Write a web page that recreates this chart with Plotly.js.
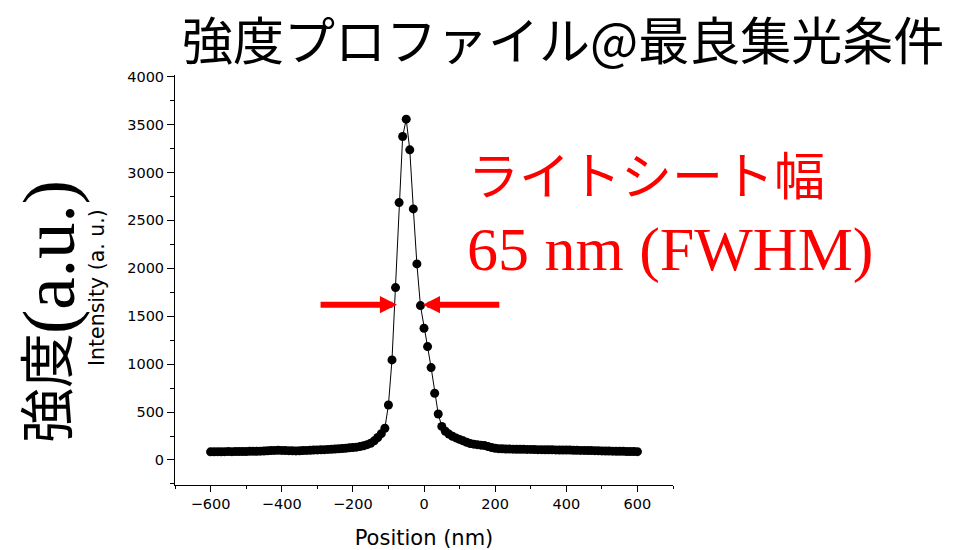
<!DOCTYPE html>
<html>
<head>
<meta charset="utf-8">
<script src="https://cdn.plot.ly/plotly-3.0.1.min.js"></script>
<style>html,body{margin:0;padding:0;background:#fff;}#chart{width:973px;height:550px;}</style>
</head>
<body>
<div id="chart"></div>
<script>
// Position (nm)
const positionNm = [
  -600,-590,-580,-570,-560,-550,-540,-530,-520,-510,
  -500,-490,-480,-470,-460,-450,-440,-430,-420,-410,
  -400,-390,-380,-370,-360,-350,-340,-330,-320,-310,
  -300,-290,-280,-270,-260,-250,-240,-230,-220,-210,
  -200,-190,-180,-170,-160,-150,-140,-130,-120,-110,
  -100,-90,-80,-70,-60,-50,-40,-30,-20,-10,
  0,10,20,30,40,50,60,70,80,90,
  100,110,120,130,140,150,160,170,180,190,
  200,210,220,230,240,250,260,270,280,290,
  300,310,320,330,340,350,360,370,380,390,
  400,410,420,430,440,450,460,470,480,490,
  500,510,520,530,540,550,560,570,580,590,
  600
];
// Intensity (a.u.)
const intensity = [
  85,86,87,86,87,88,87,88,89,88,
  89,90,91,90,92,94,96,98,100,101,
  100,98,97,96,95,96,98,100,102,104,
  105,106,108,110,112,115,117,120,123,127,
  130,134,140,148,160,175,200,235,275,331,
  574,1044,1799,2686,3375,3556,3236,2620,2046,1611,
  1375,1183,964,696,480,350,300,270,248,230,
  215,200,185,172,165,160,155,150,140,130,
  122,118,116,115,114,113,112,112,111,110,
  110,109,108,108,107,106,106,105,104,104,
  103,103,102,101,100,100,99,98,97,96,
  95,94,93,92,91,90,90,89,88,88,
  87
];
const xTickVals = [-600,-400,-200,0,200,400,600];
const yTickVals = [0,500,1000,1500,2000,2500,3000,3500,4000];

const titleText = '強度プロファイル@最良集光条件';
const xTitleText = 'Position (nm)';
const yTitleJa = '強度';
const yTitleUnit = '(a.u.)';
const yTitleEn = 'Intensity (a. u.)';
const labelJa = 'ライトシート幅';
const labelFwhm = '65 nm (FWHM)';
// FWHM arrows: [tip x, tail x] at level arrowLevel
const arrowLevel = 1621;
const leftArrow = [-76, -295];
const rightArrow = [-3, 216];

const trace = {
  x: positionNm,
  y: intensity,
  type: 'scatter',
  mode: 'lines+markers',
  line: {color: '#000', width: 1},
  marker: {color: '#000', size: 9},
  hoverinfo: 'x+y'
};

const tickFont = {family: 'DejaVu Sans, Liberation Sans, sans-serif', size: 14.5, color: '#000'};

const layout = {
  width: 973,
  height: 550,
  autosize: false,
  margin: {l: 175, r: 300, t: 75, b: 65, pad: 0},
  paper_bgcolor: '#fff',
  plot_bgcolor: '#fff',
  showlegend: false,
  title: {
    text: titleText,
    font: {family: 'Noto Sans CJK JP, sans-serif', size: 51, color: '#000'},
    xref: 'container', x: 182/973, xanchor: 'left',
    yref: 'container', y: 1 - 42/550, yanchor: 'middle'
  },
  xaxis: {
    range: [-700, 700],
    tickmode: 'array',
    tickvals: xTickVals,
    ticks: 'outside', ticklen: 6, tickwidth: 1, tickcolor: '#000',
    minor: {ticks: 'outside', ticklen: 3, tickwidth: 1, tickcolor: '#000', dtick: 100, tick0: -700, showgrid: false},
    showline: true, linecolor: '#000', linewidth: 1,
    showgrid: false, zeroline: false,
    tickfont: tickFont,
    title: {text: xTitleText, font: {family: 'DejaVu Sans, sans-serif', size: 21, color: '#000'}, standoff: 18}
  },
  yaxis: {
    range: [-261, 4017],
    tickmode: 'array',
    tickvals: yTickVals,
    ticks: 'outside', ticklen: 7, tickwidth: 1, tickcolor: '#000',
    minor: {ticks: 'outside', ticklen: 4, tickwidth: 1, tickcolor: '#000', dtick: 250, tick0: 0, showgrid: false},
    showline: true, linecolor: '#000', linewidth: 1,
    showgrid: false, zeroline: false,
    tickfont: tickFont
  },
  annotations: [
    {text: yTitleJa, xref: 'paper', yref: 'paper', x: (43-175)/498, y: (485-388)/410,
     xanchor: 'center', yanchor: 'middle', textangle: -90, showarrow: false,
     font: {family: 'Noto Sans CJK JP, sans-serif', size: 55, color: '#000'}},
    {text: yTitleUnit, xref: 'paper', yref: 'paper', x: (49-175)/498, y: (485-257)/410,
     xanchor: 'center', yanchor: 'middle', textangle: -90, showarrow: false,
     font: {family: 'Liberation Serif, serif', size: 73, color: '#000'}},
    {text: yTitleEn, xref: 'paper', yref: 'paper', x: (97-175)/498, y: (485-288)/410,
     xanchor: 'center', yanchor: 'middle', textangle: -90, showarrow: false,
     font: {family: 'DejaVu Sans, sans-serif', size: 20.5, color: '#000'}},
    {text: labelJa, xref: 'paper', yref: 'paper', x: (466-175)/498, y: (485-173)/410,
     xanchor: 'left', yanchor: 'middle', showarrow: false,
     font: {family: 'Noto Sans CJK JP, sans-serif', size: 51, color: '#ff0000'}},
    {text: labelFwhm, xref: 'paper', yref: 'paper', x: (465-175)/498, y: (485-249)/410,
     xanchor: 'left', yanchor: 'middle', showarrow: false,
     font: {family: 'Liberation Serif, serif', size: 62, color: '#ff0000'}},
    {text: '', x: leftArrow[0], y: arrowLevel, xref: 'x', yref: 'y',
     ax: leftArrow[1], ay: arrowLevel, axref: 'x', ayref: 'y',
     showarrow: true, arrowhead: 2, arrowsize: 0.57, arrowwidth: 6, arrowcolor: '#ff0000'},
    {text: '', x: rightArrow[0], y: arrowLevel, xref: 'x', yref: 'y',
     ax: rightArrow[1], ay: arrowLevel, axref: 'x', ayref: 'y',
     showarrow: true, arrowhead: 2, arrowsize: 0.57, arrowwidth: 6, arrowcolor: '#ff0000'}
  ]
};

Plotly.newPlot('chart', [trace], layout, {displayModeBar: false, responsive: false});
</script>
</body>
</html>
